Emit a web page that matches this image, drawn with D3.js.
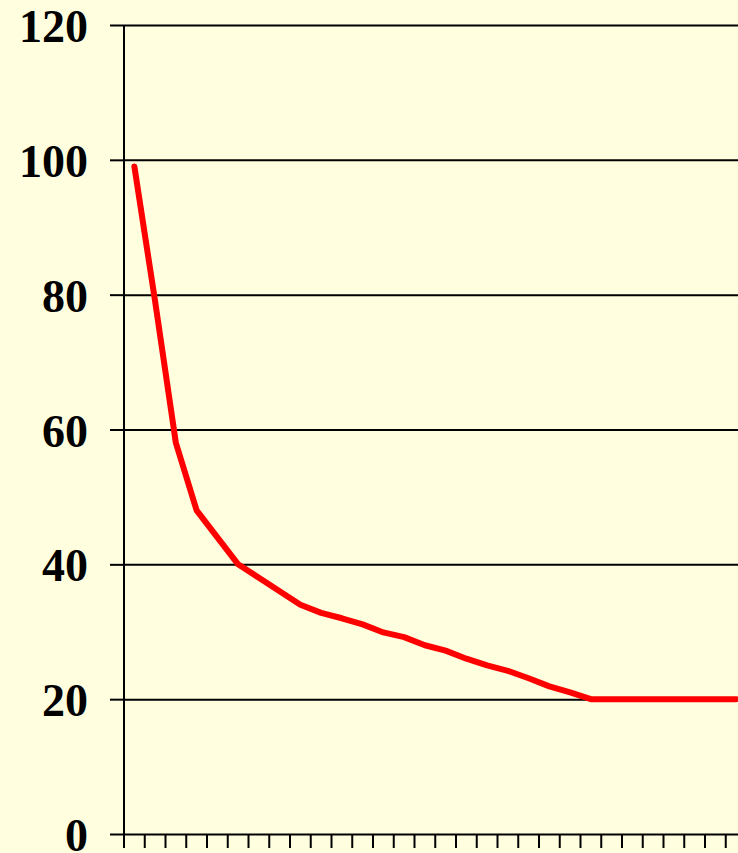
<!DOCTYPE html>
<html>
<head>
<meta charset="utf-8">
<script src="https://cdn.jsdelivr.net/npm/d3@7"></script>
<style>
  html, body { margin: 0; padding: 0; background: #FFFFE0; overflow: hidden; }
</style>
</head>
<body>
<div id="root"></div>
<script>
// data
var categories = d3.range(1, 31);
var values = [99, 79, 58, 48, 44, 40, 38, 36, 34, 32.8, 32, 31.1, 29.9, 29.2, 28,
              27.2, 26, 25, 24.2, 23.1, 21.9, 21, 20, 20, 20, 20, 20, 20, 20, 20];
var yTicks = [0, 20, 40, 60, 80, 100, 120];

var w = 738, h = 853;
var margin = {top: 25, left: 124, bottom: 19};
var plotW = 622.5;

var svg = d3.select("#root").append("svg")
    .attr("width", w)
    .attr("height", h)
    .style("display", "block")
    .style("background", "#FFFFE0");

var x = d3.scaleBand()
    .domain(categories)
    .range([margin.left, margin.left + plotW]);

var y = d3.scaleLinear()
    .domain([0, 120])
    .range([h - margin.bottom, margin.top]);

// gridlines + left axis
var yAxis = svg.append("g")
    .attr("transform", "translate(" + margin.left + ",0)")
    .call(d3.axisLeft(y).tickValues(yTicks).tickSize(14).tickPadding(22)
        .tickFormat(d3.format("d")));
yAxis.select(".domain").remove();
yAxis.selectAll(".tick line").attr("stroke", "#000").attr("stroke-width", 2);
yAxis.selectAll(".tick").append("line")
    .attr("x1", 0).attr("x2", plotW + 20)
    .attr("stroke", "#000").attr("stroke-width", 2);
yAxis.selectAll(".tick text")
    .attr("fill", "#000")
    .attr("dy", "0.36em")
    .style("font-family", "'Liberation Serif', 'Times New Roman', serif")
    .style("font-weight", "bold")
    .style("font-size", "46px");

svg.append("line")
    .attr("x1", margin.left).attr("x2", margin.left)
    .attr("y1", y(120)).attr("y2", y(0))
    .attr("stroke", "#000").attr("stroke-width", 2);

// bottom axis with ticks between categories
var xAxis = svg.append("g")
    .attr("transform", "translate(0," + y(0) + ")");
xAxis.selectAll("line.xt")
    .data(categories)
    .enter().append("line")
    .attr("class", "xt")
    .attr("x1", function(d) { return x(d); })
    .attr("x2", function(d) { return x(d); })
    .attr("y1", 0).attr("y2", 14)
    .attr("stroke", "#000").attr("stroke-width", 2);

// the red series
var line = d3.line()
    .x(function(d, i) { return x(categories[i]) + x.bandwidth() / 2; })
    .y(function(d) { return y(d); });

svg.append("path")
    .datum(values)
    .attr("d", line)
    .attr("fill", "none")
    .attr("stroke", "#FF0000")
    .attr("stroke-width", 6)
    .attr("stroke-linejoin", "round")
    .attr("stroke-linecap", "round");
</script>
</body>
</html>
